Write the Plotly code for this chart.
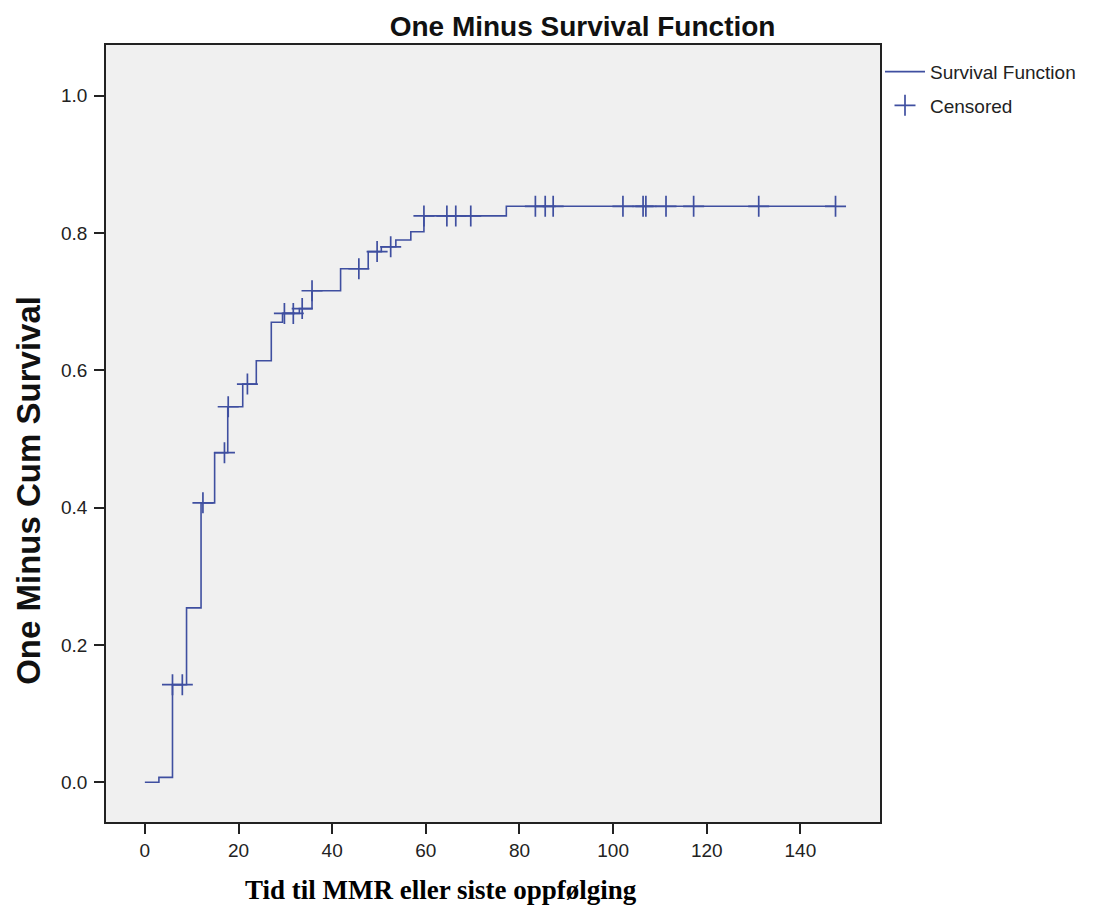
import numpy as np
import plotly.graph_objects as go

# Step times (months) and one-minus-cumulative-survival value after each step
event_times = [0, 3.0, 5.9, 8.9, 12.0, 14.9, 17.7, 20.9, 23.8, 27.0, 29.4, 33.0, 35.7,
               41.8, 47.7, 50.5, 53.6, 56.8, 59.6, 77.2]
event_values = [0.0, 0.007, 0.142, 0.254, 0.407, 0.480, 0.547, 0.580, 0.614, 0.670, 0.683,
                0.690, 0.716, 0.748, 0.773, 0.780, 0.790, 0.802, 0.825, 0.839]
# Censored observation times
censored_times = [5.9, 8.0, 12.4, 17.0, 17.8, 21.9, 29.8, 31.7, 33.6, 35.7, 45.7, 49.6, 52.5,
                  59.6, 64.5, 66.4, 69.6, 83.4, 85.5, 87.2, 102.1, 106.4, 107.0, 111.3,
                  117.2, 131.1, 147.5]
x_ticks = [0, 20, 40, 60, 80, 100, 120, 140]
y_ticks = [0.0, 0.2, 0.4, 0.6, 0.8, 1.0]

LINE = "#3F4FA0"
SANS = "Liberation Sans, Arial, sans-serif"

def value_at(t):
    idx = np.searchsorted(np.array(event_times), t, side="right") - 1
    return event_values[idx]

end_t = max(censored_times)
line_x = list(event_times) + [end_t]
line_y = list(event_values) + [event_values[-1]]
cens_y = [value_at(t) for t in censored_times]

fig = go.Figure()
fig.add_trace(go.Scatter(
    x=line_x, y=line_y, mode="lines", line=dict(shape="hv", color=LINE, width=1.6),
    name="Survival Function", legendgroup="a"))
fig.add_trace(go.Scatter(
    x=censored_times, y=cens_y, mode="markers", name="Censored", legendgroup="b",
    marker=dict(symbol="cross-thin", size=15, line=dict(color=LINE, width=1.7), color=LINE)))

fig.update_layout(
    width=1093, height=923,
    paper_bgcolor="white", plot_bgcolor="#F0F0F0",
    margin=dict(l=106, r=210, t=45, b=101),
    font=dict(family=SANS, size=14, color="#222"),
    title=dict(text="<b>One Minus Survival Function</b>", x=0.533, xanchor="center",
               y=0.972, yanchor="middle",
               font=dict(family=SANS, size=28, color="#111")),
    showlegend=True,
    legend=dict(x=1.0, y=0.99, xanchor="left", yanchor="top", bgcolor="rgba(0,0,0,0)",
                font=dict(size=19, color="#222", family=SANS), itemwidth=40,
                tracegroupgap=6, traceorder="grouped"),
)
fig.update_xaxes(range=[-8.3, 157], tickvals=x_ticks, ticks="outside", ticklen=10, tickwidth=1.5,
                 tickcolor="#222", showline=True, linecolor="#222", linewidth=1.5, mirror=True,
                 showgrid=False, zeroline=False, tickfont=dict(size=19, color="#222"))
fig.update_yaxes(range=[-0.058, 1.074], tickvals=y_ticks, tickformat=".1f", ticks="outside",
                 ticklen=10, tickwidth=1.5, tickcolor="#222", showline=True, linecolor="#222",
                 linewidth=1.5, mirror=True, showgrid=False, zeroline=False,
                 ticklabelstandoff=3,
                 tickfont=dict(size=19, color="#222"))

fig.add_annotation(text="<b>One Minus Cum Survival</b>", xref="paper", yref="paper",
                   x=-0.1, y=0.427, textangle=-90, showarrow=False, xanchor="center",
                   yanchor="middle",
                   font=dict(family=SANS, size=33, color="#111"))
fig.add_annotation(text="<b>Tid til MMR eller siste oppfølging</b>", xref="paper", yref="paper",
                   x=(442 - 106) / 777, y=-0.088, showarrow=False, xanchor="center",
                   yanchor="middle",
                   font=dict(family="Liberation Serif, Times New Roman, serif", size=27,
                             color="#000"))

fig.write_html("out.html")
